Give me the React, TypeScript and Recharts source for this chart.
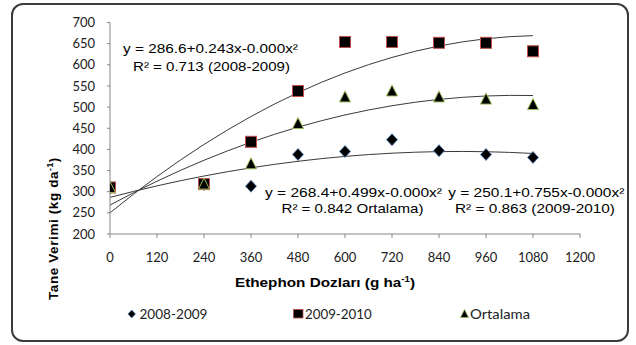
import React from "react";
import { ComposedChart, Scatter, Line, XAxis, YAxis } from "recharts";

// Categories (Ethephon doses, g ha-1)
const doses = [0, 240, 360, 480, 600, 720, 840, 960, 1080];
// Series values (Tane Verimi, kg da-1)
const yield0809 = [309, 317, 313, 388, 395, 423, 397, 388, 381];
const yield0910 = [310, 318, 418, 538, 654, 654, 652, 652, 632];
const yieldOrt = [310, 318, 366, 461, 524, 538, 524, 519, 506];
// Polynomial trendline coefficients [a, b, c]
const trend0809 = [286.6, 0.243, -0.000136];
const trend0910 = [250.1, 0.755, -0.00034];
const trendOrt = [268.4, 0.499, -0.00024];
const trendXs = [0, 60, 120, 180, 240, 300, 360, 420, 480, 540, 600, 660, 720, 780, 840, 900, 960, 1020, 1080];
// Tick labels
const xTicks = [0, 120, 240, 360, 480, 600, 720, 840, 960, 1080, 1200];
const yTicks = [200, 250, 300, 350, 400, 450, 500, 550, 600, 650, 700];
const legendNames = ["2008-2009", "2009-2010", "Ortalama"];

const pts = (ys: number[]) => doses.map((x, i) => ({ x, y: ys[i] }));
const trend = (c: number[]) => trendXs.map((x) => ({ x, y: c[0] + c[1] * x + c[2] * x * x }));

const Diamond = (p: any) => {
  const { cx, cy } = p;
  return <path d={`M${cx},${cy - 6}L${cx + 5.5},${cy}L${cx},${cy + 6}L${cx - 5.5},${cy}Z`} fill="#000" stroke="#4F81BD" strokeWidth={0.8} />;
};
const Square = (p: any) => {
  const { cx, cy } = p;
  return <rect x={cx - 5.5} y={cy - 5.5} width={11} height={11} fill="#000" stroke="#C0504D" strokeWidth={1} />;
};
const Triangle = (p: any) => {
  const { cx, cy } = p;
  return <path d={`M${cx},${cy - 6}L${cx + 5.5},${cy + 5}L${cx - 5.5},${cy + 5}Z`} fill="#000" stroke="#9BBB59" strokeWidth={1} />;
};

const eqFont = "'Liberation Sans', Arial, sans-serif";
const lgFont = "Lato, 'Open Sans', sans-serif";

export default function App() {
  return (
    <div style={{ position: "absolute", left: 0, top: 0, width: 636, height: 345, background: "#fff" }}>
      <ComposedChart width={636} height={345} margin={{ top: 22.5, right: 56, bottom: 81, left: 50 }}>
        <rect x={12} y={4} width={616} height={337} rx={11} ry={11} fill="none" stroke="#3c3c3c" strokeWidth={2} />
        <XAxis
          type="number"
          dataKey="x"
          domain={[0, 1200]}
          ticks={xTicks}
          interval={0}
          height={30}
          stroke="#868686"
          tickSize={4}
          tickMargin={15}
          tick={{ fill: "#222", fontSize: 13, fontFamily: lgFont }}
          allowDataOverflow
        />
        <YAxis
          type="number"
          dataKey="y"
          domain={[200, 700]}
          ticks={yTicks}
          interval={0}
          width={60}
          stroke="#868686"
          tickSize={3}
          tickMargin={12}
          tick={{ fill: "#222", fontSize: 13, fontFamily: lgFont }}
          allowDataOverflow
        />
        <Line data={trend(trend0809)} dataKey="y" type="linear" dot={false} activeDot={false} stroke="#3a3a3a" strokeWidth={1} isAnimationActive={false} />
        <Line data={trend(trend0910)} dataKey="y" type="linear" dot={false} activeDot={false} stroke="#3a3a3a" strokeWidth={1} isAnimationActive={false} />
        <Line data={trend(trendOrt)} dataKey="y" type="linear" dot={false} activeDot={false} stroke="#3a3a3a" strokeWidth={1} isAnimationActive={false} />
        <Scatter name={legendNames[0]} data={pts(yield0809)} dataKey="y" shape={Diamond} isAnimationActive={false} />
        <Scatter name={legendNames[1]} data={pts(yield0910)} dataKey="y" shape={Square} isAnimationActive={false} />
        <Scatter name={legendNames[2]} data={pts(yieldOrt)} dataKey="y" shape={Triangle} isAnimationActive={false} />

        <g fontFamily={eqFont} fontSize={13} fill="#000">
          <text x={123} y={53.3} textLength={175} lengthAdjust="spacingAndGlyphs">y = 286.6+0.243x-0.000x²</text>
          <text x={133} y={71} textLength={157} lengthAdjust="spacingAndGlyphs">R² = 0.713 (2008-2009)</text>
          <text x={265} y={196.5} textLength={177} lengthAdjust="spacingAndGlyphs">y = 268.4+0.499x-0.000x²</text>
          <text x={281.5} y={212.5} textLength={142} lengthAdjust="spacingAndGlyphs">R² = 0.842 Ortalama)</text>
          <text x={448.3} y={196.5} textLength={176} lengthAdjust="spacingAndGlyphs">y = 250.1+0.755x-0.000x²</text>
          <text x={455} y={212.5} textLength={160} lengthAdjust="spacingAndGlyphs">R² = 0.863 (2009-2010)</text>
        </g>

        <text x={235} y={286.7} fontFamily={eqFont} fontSize={13.5} fontWeight="bold" fill="#000" textLength={180} lengthAdjust="spacingAndGlyphs">
          Ethephon Dozları (g ha<tspan fontSize={8.5} dy={-5}>-1</tspan><tspan dy={5}>)</tspan>
        </text>
        <g transform="translate(58,300) rotate(-90)">
          <text x={0} y={0} fontFamily={eqFont} fontSize={13.5} fontWeight="bold" fill="#000" letterSpacing={0.6}>
            Tane Verimi (kg da<tspan fontSize={8.5} dy={-5}>-1</tspan><tspan dy={5}>)</tspan>
          </text>
        </g>

        <g fontFamily={lgFont} fontSize={13.5} fill="#222">
          <path d="M131.7,310L135.5,314L131.7,318L127.9,314Z" fill="#000" stroke="#4F81BD" strokeWidth={0.6} />
          <text x={139.5} y={318.5} textLength={68} lengthAdjust="spacingAndGlyphs">{legendNames[0]}</text>
          <rect x={293.5} y={309.5} width={9.5} height={8.5} fill="#000" stroke="#C0504D" strokeWidth={0.8} />
          <text x={305} y={318.5} textLength={66.7} lengthAdjust="spacingAndGlyphs">{legendNames[1]}</text>
          <path d="M464.5,309.5L468.5,317.5L460.5,317.5Z" fill="#000" stroke="#9BBB59" strokeWidth={0.8} />
          <text x={470} y={318.5} textLength={60} lengthAdjust="spacingAndGlyphs">{legendNames[2]}</text>
        </g>
      </ComposedChart>
    </div>
  );
}
